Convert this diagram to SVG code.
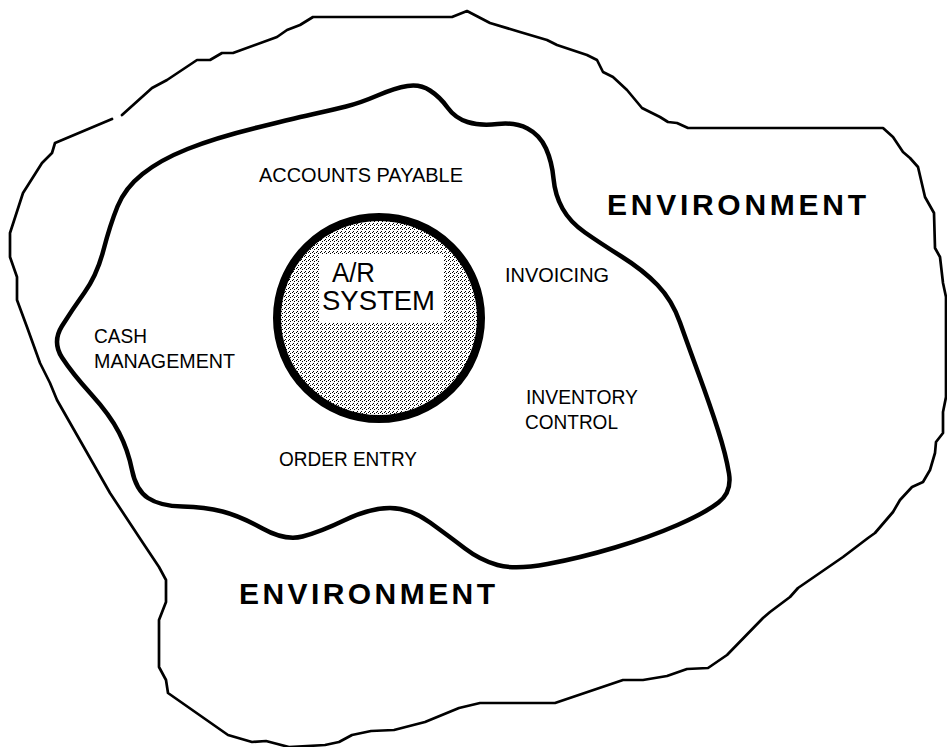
<svg xmlns="http://www.w3.org/2000/svg" width="947" height="747" viewBox="0 0 947 747">
<style>
.outer{fill:none;stroke:#000;stroke-width:2.7;stroke-linejoin:round;stroke-linecap:round}
.inner{fill:none;stroke:#000;stroke-width:4.5;stroke-linejoin:round}
.lbl{font-family:"Liberation Sans",Arial,Helvetica,sans-serif;font-size:20px;fill:#000}
.env{font-family:"Liberation Sans",Arial,Helvetica,sans-serif;font-size:30px;font-weight:bold;fill:#000}
.sys{font-family:"Liberation Sans",Arial,Helvetica,sans-serif;font-size:27px;fill:#000}
</style>
<defs>
<pattern id="dither" width="4" height="4" patternUnits="userSpaceOnUse">
<rect width="4" height="4" fill="#fff"/>
<rect x="0" y="0" width="1" height="1" fill="#000"/>
<rect x="2" y="1" width="1" height="1" fill="#000"/>
<rect x="1" y="3" width="1" height="1" fill="#000"/>
</pattern>
</defs>
<rect width="947" height="747" fill="#fff"/>
<g id="environment-boundary">
<path class="outer" d="M122,115 L152,88 L167,80 L197,60 L210,60 L222,53 L233,53 L277,37 L287,30 L300,25 L313,17 L452,17 L467,11 L490,23 L520,32 L547,40 L557,45 L587,55 L597,60 L603,72 L613,77 L627,90 L642,108 L650,112 L660,117 L668,122 L677,123 L688,128 L883,128 L893,137 L903,152 L910,158 L918,167 L925,197 L934,213 L935,248 L940,257 L943,283 L946,297 L946,397 L943,412 L943,433 L936,442 L935,453 L930,470 L923,482 L912,487 L900,500 L893,512 L875,533 L868,538 L843,557 L798,588 L790,597 L770,612 L763,618 L727,655 L708,668 L687,669 L667,676 L643,680 L623,680 L555,703 L480,703 L459,708 L425,722 L394,730 L371,731 L352,735 L339,742 L325,745 L289,747 L266,741 L252,742 L228,735 L168,693 L166,680 L159,667 L159,620 L166,602 L166,580 L159,567 L141,540 L110,493 L57,400 L50,383 L40,363 L27,327 L17,300 L17,277 L10,257 L10,233 L23,193 L42,163 L52,153 L55,143 L112,119"/>
</g>
<g id="organization-boundary">
<path class="inner" d="M377.5,95.5 Q395,88 407.5,86 Q420,84 430,90.5 Q440,97 447.5,107.5 Q455,118 467.5,122 Q480,126 497.5,124 Q515,122 527.5,128.5 Q540,135 546,148.5 Q552,162 553.5,178.5 Q555,195 562.5,208.5 Q570,222 585,232.5 Q600,243 621.5,256.5 Q643,270 657.5,285 Q672,300 680,322.5 Q688,345 699,375 Q710,405 718,430 Q726,455 729,473.5 Q732,492 718.5,502.5 Q705,513 677.5,525 Q650,537 615,547.5 Q580,558 547.5,564 Q515,570 497.5,565 Q480,560 465,548.5 Q450,537 430,522.5 Q410,508 390,508 Q370,508 345,520 Q320,532 302.5,536.5 Q285,541 262.5,528.5 Q240,516 222.5,511.5 Q205,507 182.5,506.5 Q160,506 148,498 Q136,490 132,470 Q128,450 119,432.5 Q110,415 91,394 Q72,373 62,357.5 Q52,342 62,326 Q72,310 84.5,292.5 Q97,275 103.5,250 Q110,225 117.5,206.5 Q125,188 142.5,174 Q160,160 187.5,149 Q215,138 257.5,127.5 Q300,117 316,113.5 Q332,110 346,106.5 Q360,103 377.5,95.5 Z"/>
</g>
<g id="ar-system">
<ellipse cx="379" cy="318" rx="102" ry="101" fill="url(#dither)" stroke="#000" stroke-width="8"/>
<rect x="319" y="254" width="125" height="68" fill="#fff"/>
<text class="sys" x="332" y="282" textLength="43" lengthAdjust="spacingAndGlyphs">A/R</text>
<text class="sys" x="322" y="310" textLength="113" lengthAdjust="spacingAndGlyphs">SYSTEM</text>
</g>
<g id="accounts-payable"><text class="lbl" x="259" y="182" textLength="204" lengthAdjust="spacingAndGlyphs">ACCOUNTS PAYABLE</text></g>
<g id="invoicing"><text class="lbl" x="505" y="282" textLength="104" lengthAdjust="spacingAndGlyphs">INVOICING</text></g>
<g id="cash-management">
<text class="lbl" x="94" y="343" textLength="53" lengthAdjust="spacingAndGlyphs">CASH</text>
<text class="lbl" x="94" y="368" textLength="141" lengthAdjust="spacingAndGlyphs">MANAGEMENT</text>
</g>
<g id="inventory-control">
<text class="lbl" x="526" y="404" textLength="112" lengthAdjust="spacingAndGlyphs">INVENTORY</text>
<text class="lbl" x="525" y="429" textLength="93" lengthAdjust="spacingAndGlyphs">CONTROL</text>
</g>
<g id="order-entry"><text class="lbl" x="279" y="466" textLength="138" lengthAdjust="spacingAndGlyphs">ORDER ENTRY</text></g>
<g id="environment-labels">
<text class="env" x="607" y="215" textLength="259" lengthAdjust="spacing">ENVIRONMENT</text>
<text class="env" x="239" y="604" textLength="256" lengthAdjust="spacing">ENVIRONMENT</text>
</g>
</svg>
